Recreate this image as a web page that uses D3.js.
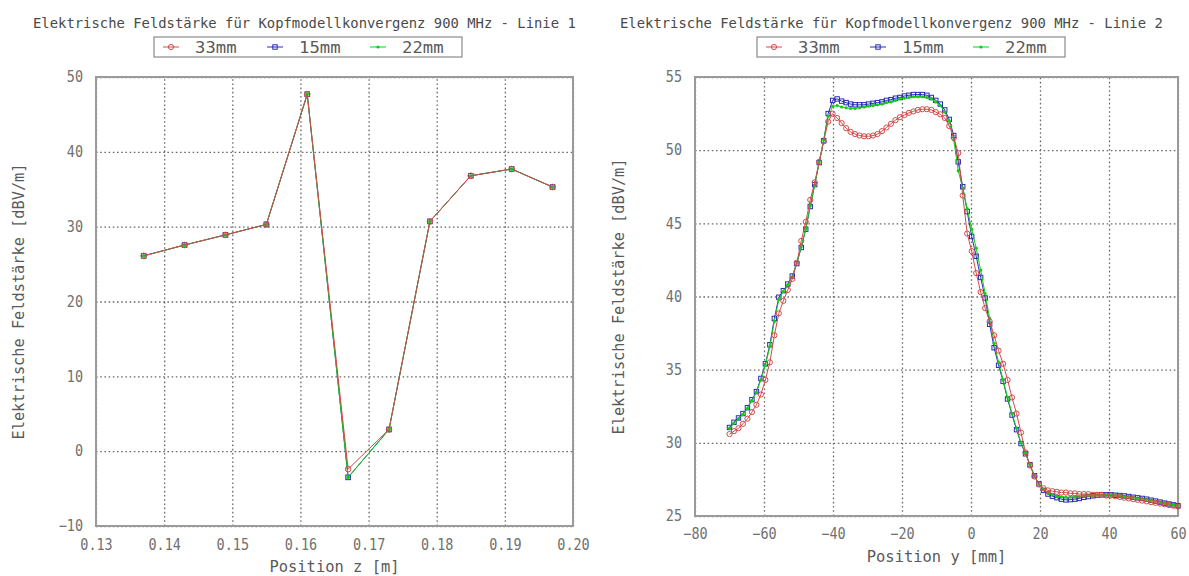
<!DOCTYPE html>
<html>
<head>
<meta charset="utf-8">
<script src="https://cdn.jsdelivr.net/npm/d3@7"></script>
<style>
  body { margin: 0; background: #fff; }
  svg { display: block; }
</style>
</head>
<body>
<svg id="chart" width="1189" height="576"></svg>
<script>
// ---- series shared by both panels ----
const seriesNames = ["33mm", "15mm", "22mm"];

// ---- Linie 1: field strength along z ----
const zPos = [0.137, 0.143, 0.149, 0.155, 0.161, 0.167, 0.173, 0.179, 0.185, 0.191, 0.197];
const line1_33mm = [26.1, 27.55, 28.9, 30.3, 47.7, -2.4, 2.9, 30.7, 36.8, 37.7, 35.3];
const line1_15mm = [26.1, 27.55, 28.9, 30.3, 47.7, -3.5, 2.9, 30.7, 36.8, 37.7, 35.3];
const line1_22mm = [26.1, 27.55, 28.9, 30.3, 47.7, -3.5, 2.9, 30.7, 36.8, 37.7, 35.3];
const zTicks = [0.13, 0.14, 0.15, 0.16, 0.17, 0.18, 0.19, 0.20];
const field1Ticks = [-10, 0, 10, 20, 30, 40, 50];

// ---- Linie 2: field strength along y [mm] ----
const yPos = [
  -70.0, -68.7, -67.4, -66.1, -64.8, -63.5, -62.2, -60.9, -59.6, -58.3,
  -57.0, -55.7, -54.4, -53.1, -51.8, -50.5, -49.2, -47.9, -46.6, -45.3,
  -44.0, -42.7, -41.4, -40.1, -38.8, -37.5, -36.2, -34.9, -33.6, -32.3,
  -31.0, -29.7, -28.4, -27.1, -25.8, -24.5, -23.2, -21.9, -20.6, -19.3,
  -18.0, -16.7, -15.4, -14.1, -12.8, -11.5, -10.2, -8.9, -7.6, -6.3,
  -5.0, -3.7, -2.4, -1.1, 0.2, 1.5, 2.8, 4.1, 5.4, 6.7,
  8.0, 9.3, 10.6, 11.9, 13.2, 14.5, 15.8, 17.1, 18.4, 19.7,
  21.0, 22.3, 23.6, 24.9, 26.2, 27.5, 28.8, 30.1, 31.4, 32.7,
  34.0, 35.3, 36.6, 37.9, 39.2, 40.5, 41.8, 43.1, 44.4, 45.7,
  47.0, 48.3, 49.6, 50.9, 52.2, 53.5, 54.8, 56.1, 57.4, 58.7, 60.0
];
const line2_33mm = [
  30.6, 30.8, 31.0, 31.3, 31.65, 32.1, 32.6, 33.3, 34.3, 35.5,
  37.35, 38.85, 39.7, 40.45, 41.2, 42.3, 43.8, 45.1, 46.6, 47.8,
  49.2, 50.6, 51.95, 52.5, 52.2, 51.85, 51.5, 51.25, 51.1, 51.0,
  50.95, 50.95, 51.0, 51.1, 51.3, 51.55, 51.8, 52.05, 52.25, 52.4,
  52.55, 52.65, 52.75, 52.8, 52.8, 52.75, 52.6, 52.45, 52.2, 51.65,
  50.85, 49.8, 46.9, 44.3, 43.1, 41.6, 40.3, 39.2, 38.3, 37.35,
  36.3, 35.4, 34.3, 33.1, 32.0, 30.7, 29.35, 28.45, 27.7, 27.15,
  26.9, 26.75, 26.7, 26.65, 26.6, 26.6, 26.55, 26.55, 26.5, 26.5,
  26.5, 26.45, 26.45, 26.45, 26.4, 26.4, 26.35, 26.3, 26.25, 26.2,
  26.15, 26.1, 26.05, 26.0, 25.95, 25.9, 25.85, 25.8, 25.75, 25.7, 25.65
];
const line2_15mm = [
  31.05, 31.4, 31.7, 32.0, 32.4, 32.95, 33.5, 34.4, 35.4, 36.7,
  38.5, 39.95, 40.4, 40.85, 41.4, 42.25, 43.35, 44.6, 46.15, 47.65,
  49.15, 50.65, 52.5, 53.4, 53.5, 53.35, 53.25, 53.15, 53.1, 53.1,
  53.1, 53.15, 53.2, 53.25, 53.3, 53.4, 53.45, 53.55, 53.6, 53.7,
  53.75, 53.8, 53.8, 53.8, 53.75, 53.6, 53.4, 53.15, 52.75, 52.1,
  51.0, 49.2, 47.5, 45.8, 44.1, 42.75, 41.3, 39.9, 38.1, 36.5,
  35.3, 34.2, 33.0, 31.9, 30.9, 29.95, 29.25, 28.5, 27.75, 27.2,
  26.75, 26.5, 26.35, 26.25, 26.15, 26.1, 26.12, 26.15, 26.2, 26.28,
  26.33, 26.38, 26.42, 26.45, 26.45, 26.45, 26.42, 26.4, 26.37, 26.33,
  26.28, 26.24, 26.2, 26.15, 26.08, 26.02, 25.95, 25.88, 25.82, 25.76, 25.7
];
const line2_22mm = [
  31.0, 31.35, 31.65, 31.95, 32.35, 32.9, 33.45, 34.3, 35.3, 36.6,
  38.3, 39.8, 40.35, 40.8, 41.35, 42.3, 43.4, 44.6, 46.2, 47.6,
  49.2, 50.7, 52.3, 53.0, 53.05, 52.95, 52.9, 52.85, 52.85, 52.9,
  52.95, 53.0, 53.05, 53.1, 53.15, 53.25, 53.3, 53.4, 53.5, 53.55,
  53.6, 53.65, 53.65, 53.65, 53.6, 53.5, 53.3, 53.05, 52.6, 52.0,
  50.7, 48.6, 47.4, 46.0, 44.6, 43.3, 41.8, 40.2, 38.5, 36.8,
  35.5, 34.3, 33.1, 32.0, 31.0, 30.0, 29.3, 28.5, 27.75, 27.2,
  26.8, 26.55, 26.45, 26.35, 26.3, 26.28, 26.28, 26.3, 26.32, 26.35,
  26.38, 26.4, 26.42, 26.44, 26.44, 26.43, 26.41, 26.39, 26.36, 26.32,
  26.27, 26.23, 26.19, 26.14, 26.08, 26.02, 25.95, 25.88, 25.82, 25.76, 25.7
];
const yTicks = [-80, -60, -40, -20, 0, 20, 40, 60];
const field2Ticks = [25, 30, 35, 40, 45, 50, 55];

// ---- styling ----
const FONT = "'DejaVu Sans Mono', 'Liberation Mono', monospace";
const colors = { "33mm": "#d44a4a", "15mm": "#2a2ab8", "22mm": "#10d010" };
const drawOrder = ["15mm", "22mm", "33mm"];

const svg = d3.select("#chart");

// stretch/squeeze text to a given per-character advance
function fit(sel, charW) {
  sel.each(function () {
    const t = d3.select(this).text();
    d3.select(this)
      .attr("textLength", t.length * charW)
      .attr("lengthAdjust", "spacingAndGlyphs");
  });
}

function drawMarker(g, name, x, y, small) {
  const c = colors[name];
  if (name === "33mm") {
    g.append("circle").attr("cx", x).attr("cy", y).attr("r", small ? 2.6 : 2.8)
      .attr("fill", "none").attr("stroke", c).attr("stroke-width", 1);
  } else if (name === "15mm") {
    const s = small ? 4.4 : 4.6;
    g.append("rect").attr("x", x - s / 2).attr("y", y - s / 2).attr("width", s).attr("height", s)
      .attr("fill", "none").attr("stroke", c).attr("stroke-width", 1);
  } else {
    g.append("circle").attr("cx", x).attr("cy", y).attr("r", small ? 1.6 : 1.9)
      .attr("fill", c).attr("stroke", "none");
  }
}

function panel(cfg) {
  const g = svg.append("g");
  const x = d3.scaleLinear().domain(cfg.xDomain).range([cfg.left, cfg.right]);
  const y = d3.scaleLinear().domain(cfg.yDomain).range([cfg.bottom, cfg.top]);
  const w = cfg.right - cfg.left, h = cfg.bottom - cfg.top;

  // dotted grid
  const gx = g.append("g").attr("transform", `translate(0,${cfg.bottom})`)
    .call(d3.axisBottom(x).tickValues(cfg.xTicks).tickSize(-h).tickFormat(""));
  const gy = g.append("g").attr("transform", `translate(${cfg.left},0)`)
    .call(d3.axisLeft(y).tickValues(cfg.yTicks).tickSize(-w).tickFormat(""));
  [gx, gy].forEach(a => {
    a.select(".domain").remove();
    a.selectAll("line").attr("stroke", "#6a6a6a").attr("stroke-width", 1.3)
      .attr("stroke-dasharray", "1.6,2.6");
  });

  // frame
  g.append("rect").attr("x", cfg.left).attr("y", cfg.top).attr("width", w).attr("height", h)
    .attr("fill", "none").attr("stroke", "#9a9a9a").attr("stroke-width", 2);

  // tick labels
  const lx = g.append("g").attr("transform", `translate(0,${cfg.bottom})`)
    .call(d3.axisBottom(x).tickValues(cfg.xTicks).tickSize(0).tickPadding(cfg.xPad).tickFormat(cfg.xFormat));
  const ly = g.append("g").attr("transform", `translate(${cfg.left},0)`)
    .call(d3.axisLeft(y).tickValues(cfg.yTicks).tickSize(0).tickPadding(13).tickFormat(d3.format("d")));
  [lx, ly].forEach(a => {
    a.select(".domain").remove();
    a.selectAll("text").attr("fill", "#707070").style("font-family", FONT).style("font-size", "15px");
    fit(a.selectAll("text"), 8.1);
  });

  // series
  const lineGen = d3.line().x(d => x(d[0])).y(d => y(d[1]));
  drawOrder.forEach(name => {
    const pts = cfg.xs.map((v, i) => [v, cfg.series[name][i]]);
    g.append("path").datum(pts).attr("d", lineGen)
      .attr("fill", "none").attr("stroke", colors[name]).attr("stroke-width", 1);
    const mg = g.append("g");
    pts.forEach(p => drawMarker(mg, name, x(p[0]), y(p[1]), cfg.smallMarkers));
  });

  // titles
  const title = g.append("text").attr("x", cfg.titleX).attr("y", 28).text(cfg.title)
    .attr("fill", "#4a4a4a").style("font-family", FONT).style("font-size", "14px");
  fit(title, 8.35);

  const xl = g.append("text").attr("x", (cfg.left + cfg.right) / 2).attr("y", cfg.bottom + 46)
    .attr("text-anchor", "middle").text(cfg.xLabel)
    .attr("fill", "#5a5a5a").style("font-family", FONT).style("font-size", "15px");
  fit(xl, 9.3);

  const yl = g.append("text")
    .attr("transform", `translate(${cfg.yLabelX},${(cfg.top + cfg.bottom) / 2}) rotate(-90)`)
    .attr("text-anchor", "middle").text("Elektrische Feldstärke [dBV/m]")
    .attr("fill", "#5a5a5a").style("font-family", FONT).style("font-size", "15px");
  fit(yl, 9.2);

  // legend
  const lg = g.append("g").attr("transform", `translate(${cfg.legendX},37)`);
  lg.append("rect").attr("x", 0).attr("y", 0).attr("width", 308).attr("height", 20)
    .attr("fill", "#fff").attr("stroke", "#8a8a8a").attr("stroke-width", 1.2);
  const itemX = [9, 113, 216];
  seriesNames.forEach((name, i) => {
    const ix = itemX[i];
    lg.append("line").attr("x1", ix).attr("x2", ix + 16).attr("y1", 10).attr("y2", 10)
      .attr("stroke", colors[name]).attr("stroke-width", 1);
    drawMarker(lg, name, ix + 8, 10, true);
    const t = lg.append("text").attr("x", ix + 32).attr("y", 16).text(name)
      .attr("fill", "#5a5a5a").style("font-family", FONT).style("font-size", "15px");
    fit(t, 10.4);
  });
}

panel({
  left: 96, right: 573, top: 77, bottom: 526,
  xDomain: [0.13, 0.20], yDomain: [-10, 50],
  xTicks: zTicks, yTicks: field1Ticks, xFormat: d3.format(".2f"), xPad: 13,
  xs: zPos,
  series: { "33mm": line1_33mm, "15mm": line1_15mm, "22mm": line1_22mm },
  smallMarkers: false,
  title: "Elektrische Feldstärke für Kopfmodellkonvergenz 900 MHz - Linie 1",
  titleX: 33,
  xLabel: "Position z [m]",
  yLabelX: 24,
  legendX: 154
});

panel({
  left: 695, right: 1178, top: 77, bottom: 516,
  xDomain: [-80, 60], yDomain: [25, 55],
  xTicks: yTicks, yTicks: field2Ticks, xFormat: d3.format("d"), xPad: 12,
  xs: yPos,
  series: { "33mm": line2_33mm, "15mm": line2_15mm, "22mm": line2_22mm },
  smallMarkers: true,
  title: "Elektrische Feldstärke für Kopfmodellkonvergenz 900 MHz - Linie 2",
  titleX: 620,
  xLabel: "Position y [mm]",
  yLabelX: 624,
  legendX: 757
});
</script>
</body>
</html>
